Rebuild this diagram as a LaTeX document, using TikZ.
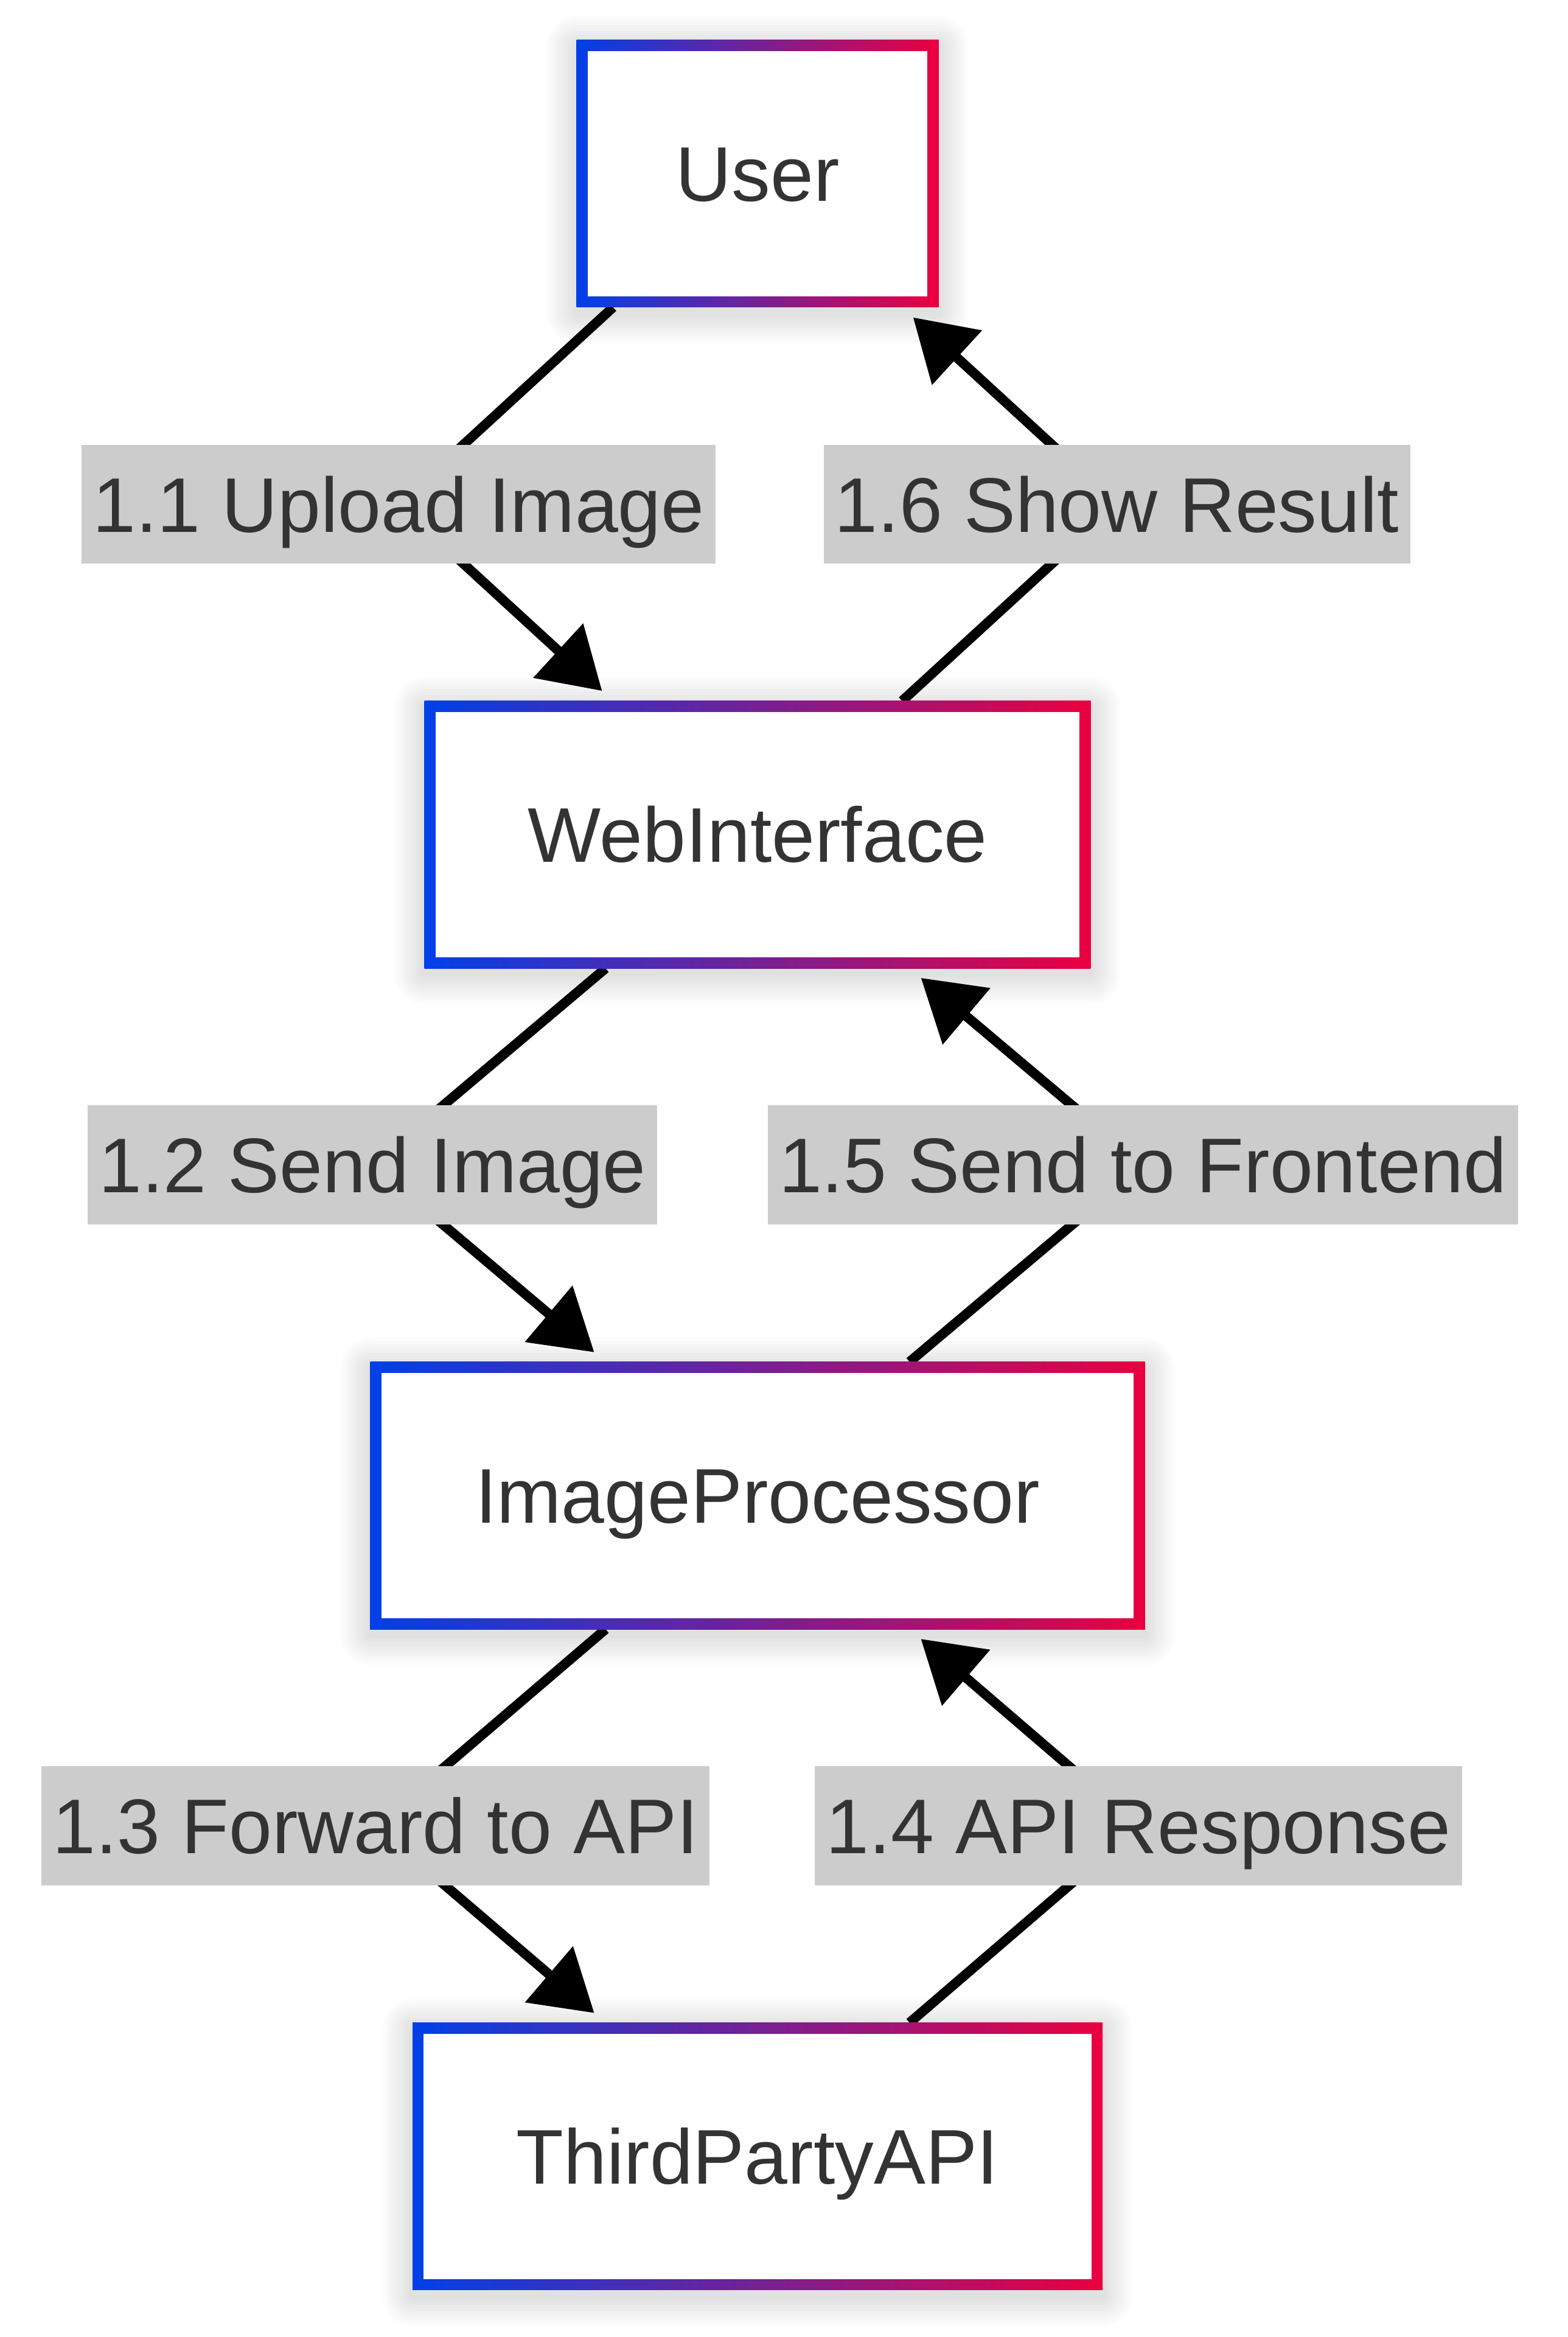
\documentclass[tikz,border=0pt]{standalone}
\usepackage{fontspec}
\setmainfont{Liberation Sans}
\usepackage{xcolor}
\usepackage{tikz}
\usetikzlibrary{calc,arrows.meta,positioning}
\definecolor{edgeblue}{RGB}{0,64,232}
\definecolor{edgered}{RGB}{235,0,64}
\definecolor{txtgray}{RGB}{51,51,51}
\definecolor{lblgray}{RGB}{204,204,204}
\pgfdeclarelayer{glow}
\pgfdeclarelayer{wires}
\pgfsetlayers{glow,wires,main}

\begin{document}
\begin{tikzpicture}[x=1pt,y=-1pt,
  font=\fontsize{52}{62}\selectfont, text=txtgray,
  box/.style={minimum width=#1, minimum height=179.4pt, inner sep=0pt, outer sep=0pt,
    left color=edgeblue, right color=edgered, text height=37.2pt, text depth=0pt,
    path picture={\fill[white] ($(path picture bounding box.south west)+(7.5,-7.5)$)
      rectangle ($(path picture bounding box.north east)+(-7.5,7.5)$);}},
  lbl/.style={fill=lblgray, minimum height=80pt, inner xsep=7.5pt, inner ysep=0pt,
    text height=37.2pt, text depth=0pt},
  flow/.style={line width=6.5pt, -{Triangle[length=40pt,width=48pt]}, shorten >=10pt}]
  \useasboundingbox (0,0) rectangle (1052,1568);

  \node [box=243pt] (user) at (508.4,116.5) {User};
  \node [box=447pt] (web) at (508.4,560) {WebInterface};
  \node [box=520pt] (proc) at (508.4,1003.4) {ImageProcessor};
  \node [box=463pt] (api) at (508.4,1446.8) {ThirdPartyAPI};

  \node [lbl] (l11) at (267.5,338.3) {1.1 Upload Image};
  \node [lbl] (l16) at (749.5,338.3) {1.6 Show Result};
  \node [lbl] (l12) at (250,781.7) {1.2 Send Image};
  \node [lbl] (l15) at (767,781.7) {1.5 Send to Frontend};
  \node [lbl] (l13) at (252,1225.1) {1.3 Forward to API};
  \node [lbl] (l14) at (764,1225.1) {1.4 API Response};

  \begin{pgfonlayer}{wires}
    \draw [flow] ($(user.south)+(-97,0)$) -- (l11.center) -- ($(web.north)+(-97,0)$);
    \draw [flow] ($(web.north)+(97,0)$) -- (l16.center) -- ($(user.south)+(97,0)$);
    \draw [flow] ($(web.south)+(-102,0)$) -- (l12.center) -- ($(proc.north)+(-102,0)$);
    \draw [flow] ($(proc.north)+(102,0)$) -- (l15.center) -- ($(web.south)+(102,0)$);
    \draw [flow] ($(proc.south)+(-102,0)$) -- (l13.center) -- ($(api.north)+(-102,0)$);
    \draw [flow] ($(api.north)+(102,0)$) -- (l14.center) -- ($(proc.south)+(102,0)$);
  \end{pgfonlayer}

  \begin{pgfonlayer}{glow}
    \fill [white] (0,0) rectangle (1052,1568);
    \foreach \n in {user,web,proc,api}
      \foreach \i in {1,...,10}
        \fill [black, opacity=0.013, rounded corners={2pt*\i}]
          ($(\n.north west)+(-2*\i,-2*\i+4)$) rectangle ($(\n.south east)+(2*\i,2*\i+4)$);
  \end{pgfonlayer}
\end{tikzpicture}
\end{document}
